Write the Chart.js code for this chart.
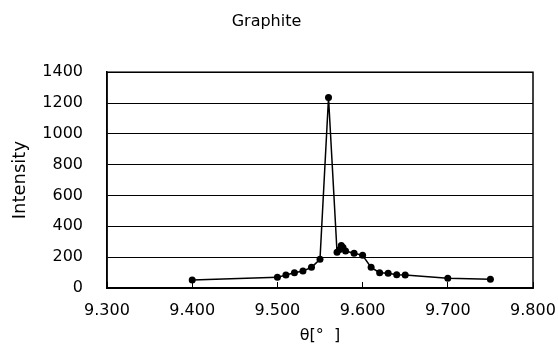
<!DOCTYPE html>
<html>
<head>
<meta charset="utf-8">
<script src="https://cdn.jsdelivr.net/npm/chart.js@4.4.0/dist/chart.umd.min.js"></script>
<style>
  html, body { margin: 0; padding: 0; background: #fff; }
  #wrap { width: 558px; height: 364px; }
</style>
</head>
<body>
<div id="wrap"><canvas id="graphiteChart" width="558" height="364"></canvas></div>
<script>
// Graphite peak scan
const theta = [9.400, 9.500, 9.510, 9.520, 9.530, 9.540, 9.550, 9.560, 9.570, 9.573, 9.575, 9.577, 9.580, 9.590, 9.600, 9.610, 9.620, 9.630, 9.640, 9.650, 9.700, 9.750];
const intensity = [52, 69, 84, 99, 110, 134, 186, 1236, 232, 250, 275, 262, 240, 225, 212, 134, 99, 95, 86, 84, 63, 56];
const xTicks = [9.3, 9.4, 9.5, 9.6, 9.7, 9.8];
const yTicks = [0, 200, 400, 600, 800, 1000, 1200, 1400];

const FONT = 'DejaVu Sans';

// box round the plot area
const frame = {
    id: 'frame',
    afterDatasetsDraw(chart) {
        const a = chart.chartArea;
        const ctx = chart.ctx;
        ctx.save();
        ctx.strokeStyle = '#000';
        ctx.lineWidth = 1.5;
        ctx.strokeRect(a.left, a.top, a.right - a.left, a.bottom - a.top);
        ctx.restore();
    }
};

new Chart(document.getElementById('graphiteChart'), {
    type: 'scatter',
    data: {
        datasets: [{
            label: 'Graphite',
            data: theta.map((t, i) => ({ x: t, y: intensity[i] })),
            showLine: true,
            borderColor: '#000',
            borderWidth: 1.5,
            backgroundColor: '#000',
            pointRadius: 3.5,
            pointBackgroundColor: '#000',
            pointBorderWidth: 0
        }]
    },
    options: {
        responsive: false,
        animation: false,
        layout: { padding: { top: 0, right: 25, bottom: 0, left: 0 } },
        plugins: {
            legend: { display: false },
            tooltip: { enabled: false },
            title: {
                display: true,
                text: 'Graphite',
                color: '#000',
                font: { family: FONT, size: 16, weight: 'normal' },
                padding: { top: 12, bottom: 41 }
            }
        },
        scales: {
            x: {
                type: 'linear',
                min: 9.3,
                max: 9.8,
                afterBuildTicks(scale) { scale.ticks = xTicks.map(v => ({ value: v })); },
                afterFit(scale) {
                    scale.height = 76;
                    scale.paddingLeft = 0;
                    scale.paddingRight = 0;
                },
                ticks: {
                    color: '#000',
                    font: { family: FONT, size: 16 },
                    padding: 19,
                    maxRotation: 0,
                    callback: v => v.toFixed(3)
                },
                grid: {
                    drawOnChartArea: false,
                    drawTicks: true,
                    tickLength: -6,
                    color: '#000',
                    lineWidth: 1
                },
                border: { color: '#000', width: 1.5 },
                title: {
                    display: true,
                    text: 'θ[°  ]',
                    color: '#000',
                    font: { family: FONT, size: 16 },
                    padding: { top: 0, bottom: 19 }
                }
            },
            y: {
                min: 0,
                max: 1400,
                afterBuildTicks(scale) { scale.ticks = yTicks.map(v => ({ value: v })); },
                afterFit(scale) { scale.width = 107; },
                ticks: {
                    color: '#000',
                    font: { family: FONT, size: 16 },
                    padding: 24,
                    callback: v => String(v)
                },
                grid: {
                    color: '#000',
                    lineWidth: 1,
                    drawTicks: false
                },
                border: { color: '#000', width: 1.5 },
                title: {
                    display: true,
                    text: 'Intensity',
                    color: '#000',
                    font: { family: FONT, size: 18 },
                    padding: { top: 10, bottom: 0 }
                }
            }
        }
    },
    plugins: [frame]
});
</script>
</body>
</html>
